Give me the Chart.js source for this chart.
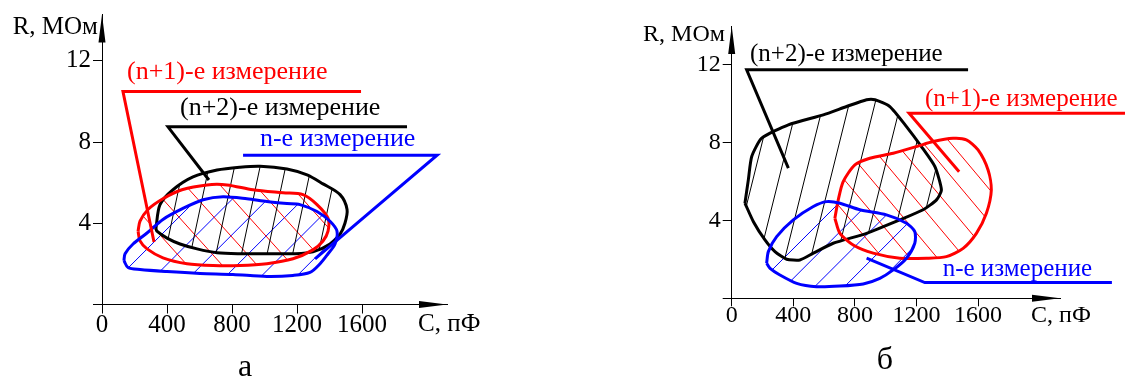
<!DOCTYPE html>
<html>
<head>
<meta charset="utf-8">
<script src="https://cdn.jsdelivr.net/npm/chart.js@4.4.1/dist/chart.umd.min.js"></script>
<style>
  html, body { margin: 0; padding: 0; background: #fff; }
  #wrap { position: relative; width: 1125px; height: 379px; overflow: hidden; }
  canvas { position: absolute; top: 0; }
</style>
</head>
<body>
<div id="wrap">
  <canvas id="chartA" width="580" height="379" style="left:0"></canvas>
  <canvas id="chartB" width="545" height="379" style="left:580px"></canvas>
</div>
<script>
// tick values (C in pF, R in MOhm)
const xTicks = [0, 400, 800, 1200, 1600];
const yTicks = [0, 4, 8, 12];

// panel "а" : closed regions, C values and R values
const aBlackC = [332, 357, 437, 560, 708, 849, 972, 1138, 1262, 1360, 1465, 1508, 1495, 1465, 1403, 1298, 1175, 1015, 849, 708, 585, 480, 400, 338];
const aBlackR = [3.76, 4.92, 5.65, 6.28, 6.62, 6.76, 6.81, 6.67, 6.38, 5.94, 5.41, 4.68, 4.0, 3.47, 2.98, 2.59, 2.5, 2.5, 2.5, 2.55, 2.74, 2.98, 3.27, 3.61];
const aRedC = [222, 234, 283, 375, 492, 646, 769, 929, 1114, 1237, 1323, 1391, 1391, 1360, 1298, 1175, 1015, 849, 683, 523, 375, 277, 234];
const aRedR = [3.61, 4.10, 4.68, 5.21, 5.65, 5.89, 5.89, 5.65, 5.50, 5.41, 4.92, 4.24, 3.61, 3.13, 2.69, 2.25, 2.01, 1.92, 1.92, 2.01, 2.30, 2.74, 3.13];
const aBlueC = [135, 142, 191, 277, 375, 498, 622, 745, 892, 1015, 1138, 1218, 1323, 1403, 1446, 1434, 1391, 1342, 1280, 1175, 1015, 806, 603, 400, 234, 160];
const aBlueR = [2.16, 2.50, 2.98, 3.52, 4.19, 4.73, 5.16, 5.31, 5.21, 5.07, 4.97, 4.92, 4.58, 4.10, 3.61, 2.98, 2.50, 2.01, 1.58, 1.43, 1.38, 1.48, 1.53, 1.62, 1.72, 1.82];
// panel "а" : leader lines
const aRedLeadC = [1594, 129, 320];
const aRedLeadR = [10.49, 10.49, 3.08];
const aBlackLeadC = [1877, 406, 658];
const aBlackLeadR = [8.75, 8.75, 6.13];
const aBlueLeadC = [868, 2062, 1311];
const aBlueLeadR = [7.35, 7.35, 2.25];

// panel "б"
const bBlackC = [86, 108, 130, 195, 368, 595, 746, 876, 930, 1027, 1135, 1232, 1319, 1362, 1330, 1243, 1092, 876, 659, 530, 443, 357, 281, 216, 141];
const bBlackR = [4.89, 6.09, 7.29, 8.23, 8.92, 9.43, 9.86, 10.21, 10.21, 9.86, 8.83, 7.80, 6.78, 5.57, 5.06, 4.55, 4.03, 3.34, 2.83, 2.32, 1.97, 2.01, 2.40, 3.00, 3.94];
const bRedC = [670, 692, 724, 800, 897, 1049, 1200, 1308, 1438, 1524, 1600, 1665, 1686, 1654, 1589, 1503, 1394, 1265, 1092, 919, 789, 703];
const bRedR = [4.12, 5.06, 6.00, 6.86, 7.20, 7.46, 7.80, 8.06, 8.23, 8.15, 7.63, 6.60, 5.57, 4.37, 3.34, 2.57, 2.14, 2.06, 2.06, 2.32, 2.74, 3.34];
const bBlueC = [227, 238, 292, 400, 530, 616, 703, 832, 1005, 1135, 1189, 1189, 1135, 1049, 962, 854, 703, 551, 422, 313, 249];
const bBlueR = [1.80, 2.40, 3.17, 4.03, 4.72, 4.97, 4.89, 4.55, 4.29, 3.86, 3.43, 2.83, 2.06, 1.46, 1.03, 0.74, 0.63, 0.60, 0.77, 1.20, 1.54];
const bBlackLeadC = [1535, 97, 368];
const bBlackLeadR = [11.75, 11.75, 6.69];
const bRedLeadC = [2554, 1152, 1477];
const bRedLeadR = [9.52, 9.52, 6.51];
const bBlueLeadC = [2469, 1254, 876];
const bBlueLeadR = [0.81, 0.81, 2.06];

const FAMILY = "'Liberation Serif', 'Times New Roman', serif";
Chart.defaults.font.family = FAMILY;
Chart.defaults.color = '#000';
Chart.defaults.animation = false;

const RED = '#ff0000', BLUE = '#0000ff', BLACK = '#000000';

function pts(cs, rs, closed) {
  const p = cs.map((c, i) => ({ x: c, y: rs[i] }));
  if (closed) p.push(p[0]);
  return p;
}

function region(cs, rs, color, angle, gap, tension) {
  return {
    data: pts(cs, rs, true), borderColor: color, borderWidth: 3, pointRadius: 0,
    tension: tension, fill: false, hatch: { color, angle, gap }
  };
}

function leader(cs, rs, color) {
  return {
    data: pts(cs, rs, false), borderColor: color, borderWidth: 3, pointRadius: 0,
    tension: 0, fill: false, clip: false, borderJoinStyle: 'miter'
  };
}

// hatching clipped to each closed curve
const hatchPlugin = {
  id: 'hatch',
  beforeDatasetsDraw(chart) {
    const ctx = chart.ctx;
    chart.data.datasets.forEach((ds, i) => {
      if (!ds.hatch) return;
      const line = chart.getDatasetMeta(i).dataset;
      line.updateControlPoints(chart.chartArea, 'x');
      ctx.save();
      ctx.beginPath();
      line.path(ctx);
      ctx.closePath();
      ctx.clip();
      const a = ds.hatch.angle * Math.PI / 180;
      const dx = Math.cos(a), dy = -Math.sin(a);
      const nx = -dy, ny = dx;
      const W = chart.width, H = chart.height, L = W + H;
      ctx.strokeStyle = ds.hatch.color;
      ctx.lineWidth = 1;
      ctx.beginPath();
      for (let k = -L; k <= L; k += ds.hatch.gap) {
        const cx = W / 2 + nx * k, cy = H / 2 + ny * k;
        ctx.moveTo(cx - dx * L, cy - dy * L);
        ctx.lineTo(cx + dx * L, cy + dy * L);
      }
      ctx.stroke();
      ctx.restore();
    });
  }
};

// arrowheads and text notes
function notes(items, arrow) {
  return {
    id: 'notes',
    afterDatasetsDraw(chart) {
      const { ctx, chartArea } = chart;
      const x = chart.scales.x, y = chart.scales.y;
      const x0 = x.getPixelForValue(0), y0 = y.getPixelForValue(0);
      ctx.save();
      ctx.fillStyle = '#000';
      ctx.beginPath();
      ctx.moveTo(x0, chartArea.top);
      ctx.lineTo(x0 - 3.5, chartArea.top + arrow);
      ctx.lineTo(x0 + 3.5, chartArea.top + arrow);
      ctx.closePath();
      ctx.moveTo(chartArea.right, y0);
      ctx.lineTo(chartArea.right - arrow, y0 - 3.5);
      ctx.lineTo(chartArea.right - arrow, y0 + 3.5);
      ctx.closePath();
      ctx.fill();
      items.forEach(t => {
        ctx.font = t.size + 'px ' + FAMILY;
        ctx.fillStyle = t.color || '#000';
        ctx.textAlign = t.align || 'left';
        ctx.textBaseline = 'alphabetic';
        ctx.fillText(t.text, x.getPixelForValue(t.c), y.getPixelForValue(t.r));
      });
      ctx.restore();
    }
  };
}

function axes(xMax, yMax, tickSize, tickLen, xPad) {
  const grid = { display: true, drawOnChartArea: false, drawTicks: true, tickLength: tickLen, color: '#000', lineWidth: 1 };
  const border = { display: true, color: '#000', width: 1 };
  return {
    x: {
      type: 'linear', position: 'bottom', min: 0, max: xMax,
      afterBuildTicks: s => { s.ticks = xTicks.map(v => ({ value: v })); },
      afterFit: s => { s.height = 40; },
      border, grid,
      ticks: { font: { size: tickSize, lineHeight: 1 }, color: '#000', padding: xPad, maxRotation: 0, autoSkip: false,
               callback: v => String(v) }
    },
    y: {
      type: 'linear', position: 'left', min: 0, max: yMax,
      afterBuildTicks: s => { s.ticks = yTicks.map(v => ({ value: v })); },
      afterFit: s => { s.width = 40; },
      border, grid: Object.assign({}, grid, { tickLength: 9 }),
      ticks: { font: { size: tickSize, lineHeight: 1 }, color: '#000', padding: 2, autoSkip: false,
               callback: v => v === 0 ? '' : String(v) }
    }
  };
}

function makeChart(id, datasets, padding, scales, items) {
  return new Chart(document.getElementById(id), {
    type: 'line',
    data: { datasets },
    options: {
      responsive: false,
      animation: false,
      events: [],
      layout: { padding },
      scales,
      plugins: { legend: { display: false }, tooltip: { enabled: false } }
    },
    plugins: [hatchPlugin, notes(items, 28)]
  });
}

makeChart('chartA', [
  leader(aRedLeadC, aRedLeadR, RED),
  leader(aBlackLeadC, aBlackLeadR, BLACK),
  leader(aBlueLeadC, aBlueLeadR, BLUE),
  region(aBlueC, aBlueR, BLUE, 45, 25, 0.3),
  region(aRedC, aRedR, RED, 132, 26, 0.3),
  region(aBlackC, aBlackR, BLACK, 78, 25, 0.3)
], { left: 62, right: 133, top: 10, bottom: 34.5 },
  axes(2123, 14.28, 25, 9, -1), [
  { text: '(n+1)-е измерение', c: 154, r: 11.1, color: RED, size: 26 },
  { text: '(n+2)-е измерение', c: 480, r: 9.31, color: BLACK, size: 26 },
  { text: 'n-е измерение', c: 972, r: 7.8, color: BLUE, size: 26 },
  { text: 'R, МОм', c: -25, r: 13.31, size: 25, align: 'right' },
  { text: 'С, пФ', c: 1945, r: -1.32, size: 25 },
  { text: 'а', c: 880, r: -3.52, size: 32, align: 'center' }
]);

makeChart('chartB', [
  leader(bBlackLeadC, bBlackLeadR, BLACK),
  leader(bRedLeadC, bRedLeadR, RED),
  leader(bBlueLeadC, bBlueLeadR, BLUE),
  region(bBlueC, bBlueR, BLUE, 45, 21, 0.25),
  region(bRedC, bRedR, RED, 130, 21, 0.25),
  region(bBlackC, bBlackR, BLACK, 76, 25, 0.2)
], { left: 111.7, right: 65, top: 26, bottom: 40.7 },
  axes(2132, 14, 24, 8, -3), [
  { text: '(n+2)-е измерение', c: 119, r: 12.2, color: BLACK, size: 25 },
  { text: '(n+1)-е измерение', c: 1255, r: 9.9, color: RED, size: 25 },
  { text: 'n-е измерение', c: 1370, r: 1.15, color: BLUE, size: 25 },
  { text: 'R, МОм', c: -44, r: 13.25, size: 24, align: 'right' },
  { text: 'С, пФ', c: 1944, r: -1.2, size: 24 },
  { text: 'б', c: 995, r: -3.63, size: 32, align: 'center' }
]);
</script>
</body>
</html>
